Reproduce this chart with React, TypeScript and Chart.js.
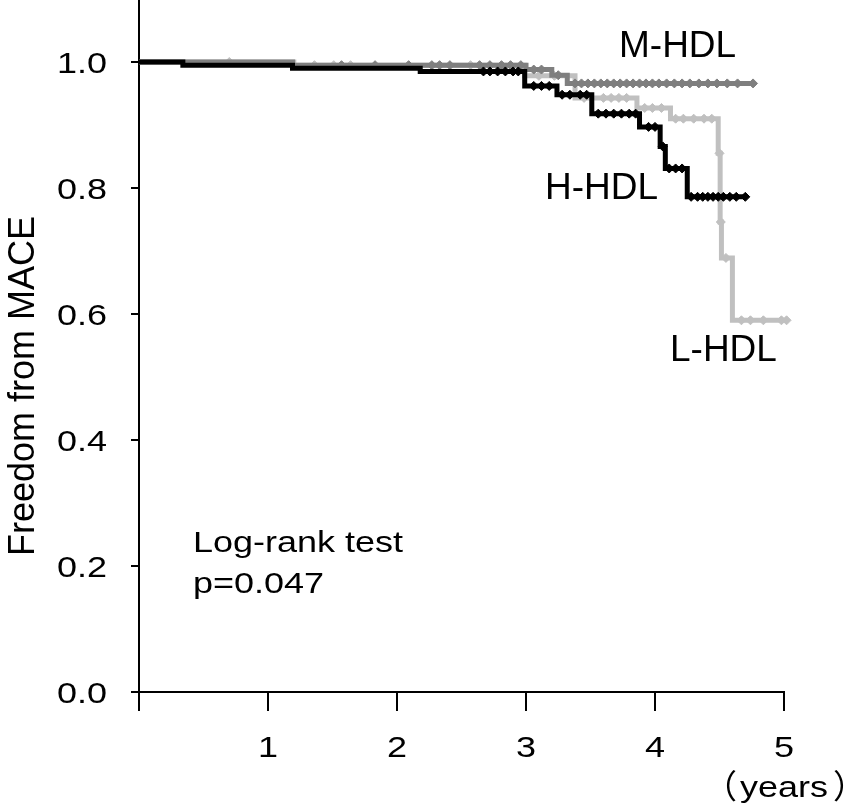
import React, { useEffect, useRef } from "react";
import { Chart, registerables } from "chart.js";
Chart.register(...registerables);

// ---- axis ticks ----
const X_TICKS = [0, 1, 2, 3, 4, 5];
const X_TICK_LABELS = ["", "1", "2", "3", "4", "5"];
const Y_TICKS = [0, 0.2, 0.4, 0.6, 0.8, 1.0];
const Y_TICK_LABELS = ["0.0", "0.2", "0.4", "0.6", "0.8", "1.0"];

// ---- H-HDL (black) ----
const H_TIMES = [0, 0.34, 1.19, 2.18, 2.99, 3.24, 3.51, 3.88, 4.04, 4.08, 4.25, 4.70];
const H_SURV = [1.0, 0.995, 0.99, 0.985, 0.962, 0.948, 0.918, 0.897, 0.866, 0.831, 0.786, 0.786];
const H_CENS_T = [2.67, 2.72, 2.78, 2.84, 2.90, 2.94, 3.06, 3.12, 3.18, 3.28, 3.34, 3.42, 3.47, 3.56, 3.62, 3.68, 3.74, 3.80, 3.85, 3.95, 4.00, 4.06, 4.11, 4.16, 4.21, 4.28, 4.33, 4.37, 4.41, 4.45, 4.49, 4.53, 4.58, 4.63, 4.70];
const H_CENS_S = [0.985, 0.985, 0.985, 0.985, 0.985, 0.985, 0.962, 0.962, 0.962, 0.948, 0.948, 0.948, 0.948, 0.918, 0.918, 0.918, 0.918, 0.918, 0.918, 0.897, 0.897, 0.866, 0.831, 0.831, 0.831, 0.786, 0.786, 0.786, 0.786, 0.786, 0.786, 0.786, 0.786, 0.786, 0.786];

// ---- M-HDL (dark gray) ----
const M_TIMES = [0, 1.19, 3.0, 3.2, 3.32, 4.76];
const M_SURV = [1.0, 0.995, 0.988, 0.979, 0.966, 0.966];
const M_CENS_T = [1.57, 1.83, 2.09, 2.27, 2.33, 2.41, 2.64, 2.72, 2.81, 2.88, 2.96, 3.06, 3.12, 3.25, 3.38, 3.43, 3.48, 3.53, 3.58, 3.63, 3.68, 3.73, 3.78, 3.83, 3.88, 3.93, 3.98, 4.03, 4.09, 4.15, 4.21, 4.27, 4.34, 4.41, 4.48, 4.56, 4.64, 4.76];
const M_CENS_S = [0.995, 0.995, 0.995, 0.995, 0.995, 0.995, 0.995, 0.995, 0.995, 0.995, 0.995, 0.988, 0.988, 0.979, 0.966, 0.966, 0.966, 0.966, 0.966, 0.966, 0.966, 0.966, 0.966, 0.966, 0.966, 0.966, 0.966, 0.966, 0.966, 0.966, 0.966, 0.966, 0.966, 0.966, 0.966, 0.966, 0.966, 0.966];

// ---- L-HDL (light gray) ----
const L_TIMES = [0, 1.2, 2.99, 3.38, 3.86, 4.12, 4.49, 4.505, 4.515, 4.60, 5.02];
const L_SURV = [1.0, 0.995, 0.978, 0.943, 0.927, 0.91, 0.855, 0.746, 0.689, 0.59, 0.59];
const L_CENS_T = [0.70, 1.36, 1.51, 1.64, 2.57, 3.10, 3.22, 3.45, 3.60, 3.66, 3.72, 3.78, 3.92, 3.98, 4.05, 4.16, 4.22, 4.30, 4.38, 4.44, 4.50, 4.51, 4.55, 4.67, 4.74, 4.84, 4.98, 5.02];
const L_CENS_S = [1.0, 0.995, 0.995, 0.995, 0.995, 0.978, 0.978, 0.943, 0.943, 0.943, 0.943, 0.943, 0.927, 0.927, 0.927, 0.91, 0.91, 0.91, 0.91, 0.91, 0.855, 0.746, 0.689, 0.59, 0.59, 0.59, 0.59, 0.59];

const COLOR_H = "#000000";
const COLOR_M = "#7f7f7f";
const COLOR_L = "#c0c0c0";

const FONT = '"Liberation Sans", Arial, sans-serif';
const CJK_FONT = '"Noto Sans CJK JP", sans-serif';

function pts(t: number[], s: number[]) {
  return t.map((x, i) => ({ x, y: s[i] }));
}

function drawText(
  ctx: CanvasRenderingContext2D,
  text: string,
  x: number,
  y: number,
  size: number,
  align: CanvasTextAlign = "left",
  sx = 1,
  rotate = 0,
  family = FONT
) {
  ctx.save();
  ctx.translate(x, y);
  if (rotate) ctx.rotate(rotate);
  ctx.scale(sx, 1);
  ctx.font = `${size}px ${family}`;
  ctx.textAlign = align;
  ctx.textBaseline = "alphabetic";
  ctx.fillStyle = "#000";
  ctx.fillText(text, 0, 0);
  ctx.restore();
}

const textPlugin = {
  id: "kmText",
  afterDraw(chart: any) {
    const ctx = chart.ctx as CanvasRenderingContext2D;
    const xs = chart.scales.x;
    const ys = chart.scales.y;
    const area = chart.chartArea;
    Y_TICKS.forEach((v, i) => {
      drawText(ctx, Y_TICK_LABELS[i], area.left - 32, ys.getPixelForValue(v) + 11, 30, "right", 1.2);
    });
    X_TICKS.forEach((v, i) => {
      if (X_TICK_LABELS[i]) drawText(ctx, X_TICK_LABELS[i], xs.getPixelForValue(v), area.bottom + 65, 30, "center", 1.2);
    });
    const x5 = xs.getPixelForValue(5);
    drawText(ctx, "years", x5, area.bottom + 105, 30, "center", 1.2);
    drawText(ctx, "（", x5 - 47, area.bottom + 106, 33, "right", 1, 0, CJK_FONT);
    drawText(ctx, "）", x5 + 49, area.bottom + 106, 33, "left", 1, 0, CJK_FONT);
    drawText(ctx, "Freedom from MACE", 34, 386, 36, "center", 1, -Math.PI / 2);
    drawText(ctx, "M-HDL", 619, 57, 37);
    drawText(ctx, "H-HDL", 545, 199, 37);
    drawText(ctx, "L-HDL", 670, 361, 37);
    drawText(ctx, "Log-rank test", 193, 552, 30, "left", 1.2);
    drawText(ctx, "p=0.047", 193, 593, 30, "left", 1.2);
  },
};

function lineDs(data: any, color: string) {
  return {
    type: "line",
    data,
    borderColor: color,
    backgroundColor: color,
    borderWidth: 5,
    stepped: true,
    pointRadius: 0,
    fill: false,
    clip: false,
  };
}
function censDs(data: any, color: string) {
  return {
    type: "line",
    data,
    showLine: false,
    borderColor: color,
    backgroundColor: color,
    pointStyle: "rectRot",
    pointRadius: 4.5,
    pointBorderWidth: 1,
    clip: false,
  };
}

export default function App() {
  const ref = useRef<HTMLCanvasElement | null>(null);
  useEffect(() => {
    if (!ref.current) return;
    const chart = new Chart(ref.current, {
      type: "line",
      data: {
        datasets: [
          censDs(pts(H_CENS_T, H_CENS_S), COLOR_H),
          lineDs(pts(H_TIMES, H_SURV), COLOR_H),
          censDs(pts(M_CENS_T, M_CENS_S), COLOR_M),
          lineDs(pts(M_TIMES, M_SURV), COLOR_M),
          censDs(pts(L_CENS_T, L_CENS_S), COLOR_L),
          lineDs(pts(L_TIMES, L_SURV), COLOR_L),
        ] as any,
      },
      options: {
        animation: false,
        responsive: false,
        maintainAspectRatio: false,
        devicePixelRatio: 1,
        layout: { autoPadding: false, padding: { top: 0, right: 62, left: 0, bottom: 0 } },
        plugins: { legend: { display: false }, tooltip: { enabled: false } },
        scales: {
          x: {
            type: "linear",
            min: 0,
            max: 5,
            afterBuildTicks: (s: any) => {
              s.ticks = X_TICKS.map((v) => ({ value: v }));
            },
            afterFit: (s: any) => {
              s.height = 118;
            },
            ticks: { display: false },
            grid: { drawOnChartArea: false, drawTicks: true, tickLength: 19, color: "#000", lineWidth: 2 },
            border: { display: true, color: "#000", width: 2 },
          },
          y: {
            type: "linear",
            min: 0,
            max: 1.0984,
            afterBuildTicks: (s: any) => {
              s.ticks = Y_TICKS.map((v) => ({ value: v }));
            },
            afterFit: (s: any) => {
              s.width = 139;
            },
            ticks: { display: false },
            grid: { drawOnChartArea: false, drawTicks: true, tickLength: 8, color: "#000", lineWidth: 2 },
            border: { display: true, color: "#000", width: 2 },
          },
        },
      } as any,
      plugins: [textPlugin],
    });
    return () => chart.destroy();
  }, []);
  return (
    <div style={{ position: "fixed", left: 0, top: 0, width: 846, height: 810, background: "#fff" }}>
      <canvas ref={ref} width={846} height={810} style={{ display: "block" }} />
    </div>
  );
}
